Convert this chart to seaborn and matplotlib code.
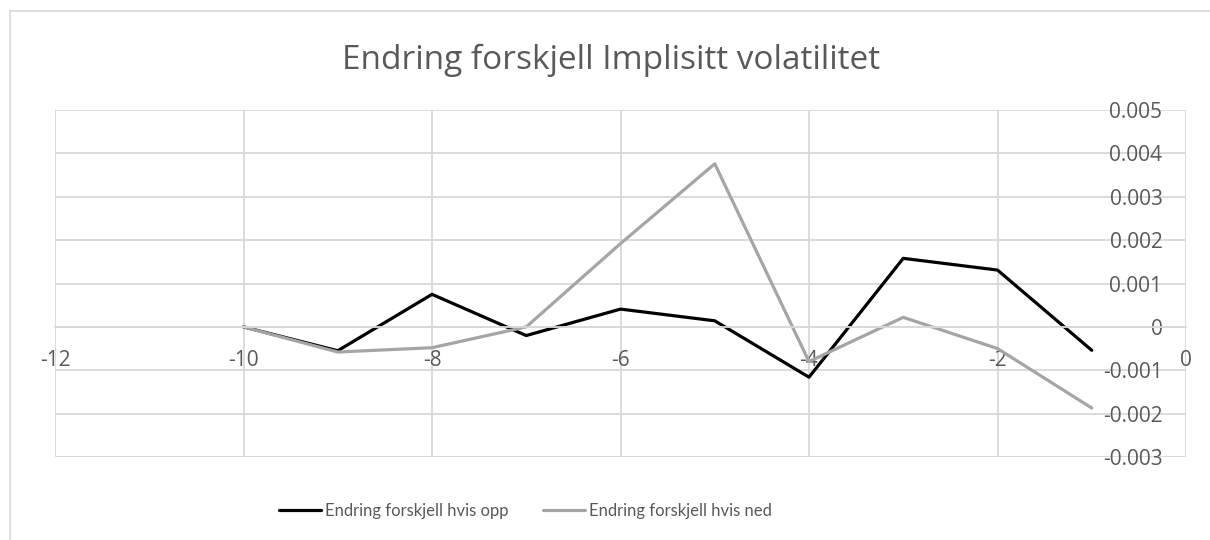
import pandas as pd
import numpy as np
import seaborn as sns
import matplotlib.pyplot as plt
from matplotlib.patches import Rectangle

# ---- data ----
days = [-10, -9, -8, -7, -6, -5, -4, -3, -2, -1]
opp = [0.0, -0.00055, 0.00075, -0.0002, 0.00041, 0.00014, -0.00116, 0.00158, 0.00131, -0.00054]
ned = [0.0, -0.00058, -0.00048, 0.0, 0.00192, 0.00376, -0.0008, 0.00022, -0.0005, -0.00187]
series_names = ["Endring forskjell hvis opp", "Endring forskjell hvis ned"]
title = "Endring forskjell Implisitt volatilitet"

x_ticks = [-12, -10, -8, -6, -4, -2, 0]
y_ticks = [-0.003, -0.002, -0.001, 0, 0.001, 0.002, 0.003, 0.004, 0.005]

df = pd.DataFrame({
    'dag': days * 2,
    'verdi': opp + ned,
    'serie': [series_names[0]] * len(days) + [series_names[1]] * len(days),
})

sns.set_style("white")
plt.rcParams['font.family'] = ['Open Sans', 'DejaVu Sans']
text_col = '#595959'
grid_col = '#D9D9D9'

fig = plt.figure(figsize=(12.1, 5.4), dpi=100)
ax = fig.add_axes([55 / 1210, 1 - 457 / 540, (1186 - 55) / 1210, (457 - 110) / 540])

# outer chart border
fig.patches.append(Rectangle((10 / 1210, -0.1), 1.2, 1 - 11 / 540 + 0.1,
                             transform=fig.transFigure, fill=False,
                             edgecolor=grid_col, lw=1.2, zorder=0))

sns.lineplot(data=df, x='dag', y='verdi', hue='serie', ax=ax,
             palette=['#000000', '#A5A5A5'], linewidth=2.3, legend=True)

ax.set_xlim(-12, 0)
ax.set_ylim(-0.003, 0.005)
ax.set_xticks(x_ticks)
ax.set_yticks(y_ticks)
ax.set_xticklabels([str(t) for t in x_ticks])
ax.set_yticklabels(['0' if t == 0 else f"{t:.3f}" for t in y_ticks])
ax.grid(True, color=grid_col, lw=1.3)
ax.set_axisbelow(True)
for s in ['left', 'right', 'top']:
    ax.spines[s].set_visible(False)
ax.spines['bottom'].set_position(('data', 0))
ax.spines['bottom'].set_color(grid_col)
ax.spines['bottom'].set_linewidth(1.3)

ax.yaxis.tick_right()
ax.tick_params(axis='y', length=0, pad=-17, labelsize=15, labelcolor=text_col)
for lbl in ax.get_yticklabels():
    lbl.set_horizontalalignment('right')
ax.tick_params(axis='x', length=0, pad=17, labelsize=15, labelcolor=text_col)
ax.set_xlabel('')
ax.set_ylabel('')

fig.text(611 / 1210, 1 - 60 / 540, title, ha='center', va='center',
         fontsize=24, color=text_col)

handles, labels = ax.get_legend_handles_labels()
leg = ax.legend(handles, labels, loc='center', bbox_to_anchor=(0.416, -0.155),
                ncol=2, frameon=False, labelcolor=text_col,
                prop={'family': ['Lato', 'DejaVu Sans'], 'size': 12},
                handlelength=2.5, handletextpad=0.25, columnspacing=2.1)

fig.savefig("out.png", dpi=100)
